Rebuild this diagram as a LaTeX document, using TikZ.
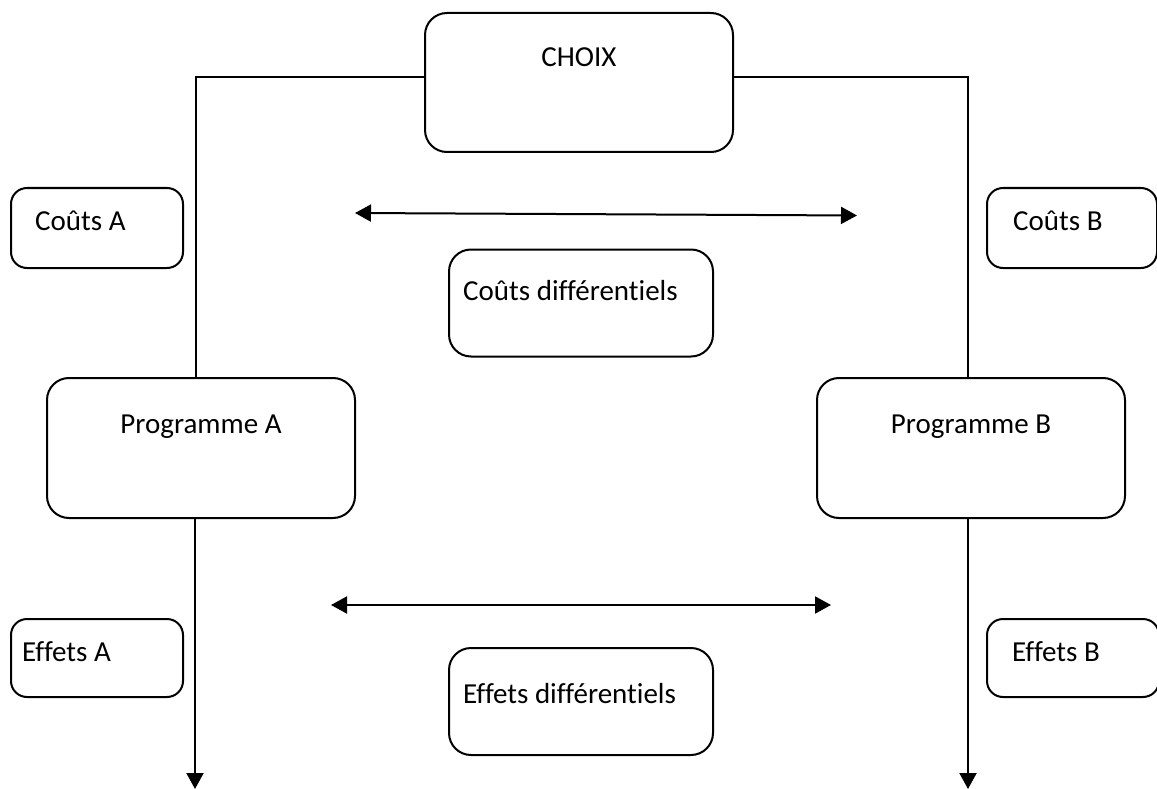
\documentclass[tikz,border=0pt]{standalone}
\usepackage{fontspec}
\setmainfont{Carlito}[Ligatures=NoCommon]
\usetikzlibrary{arrows.meta}
\begin{document}
\begin{tikzpicture}[x=1pt,y=-1pt,
  every node/.style={font=\fontsize{29}{35}\selectfont},
  box/.style={draw, line width=2pt, rounded corners=22pt, inner sep=0pt},
  smallbox/.style={draw, line width=2pt, rounded corners=16pt, inner sep=0pt},
  label/.style={inner sep=0pt, anchor=base west},
  ctext/.style={inner sep=0pt, anchor=base},
  conn/.style={line width=2pt},
  tip/.style={-{Triangle[width=17pt,length=16pt]}},
  dtip/.style={{Triangle[width=17pt,length=16pt]}-{Triangle[width=17pt,length=16pt]}}
]
\useasboundingbox (0,0) rectangle (1157,789);

% main boxes
\node[box, minimum width=308pt, minimum height=139pt] (choix) at (579,82.5) {};
\node[box, minimum width=308pt, minimum height=140pt] (progA) at (201,448) {};
\node[box, minimum width=308pt, minimum height=140pt] (progB) at (971,448) {};
\node[box, minimum width=264pt, minimum height=107pt] (cdiff) at (581,303) {};
\node[box, minimum width=264pt, minimum height=107pt] (ediff) at (581,701.5) {};

% side boxes
\node[smallbox, minimum width=172pt, minimum height=80pt] (coutA) at (97,228) {};
\node[smallbox, minimum width=170pt, minimum height=80pt] (coutB) at (1072,228) {};
\node[smallbox, minimum width=172pt, minimum height=78pt] (effA) at (97,658) {};
\node[smallbox, minimum width=172pt, minimum height=78pt] (effB) at (1073,658) {};

% texts
\node[ctext] (tchoix) at (579,67) {CHOIX};
\node[ctext] (tprogA) at (201,433) {Programme A};
\node[ctext] (tprogB) at (971,433) {Programme B};
\node[label] (tcdiff) at (463,300) {Coûts différentiels};
\node[label] (tediff) at (463,703) {Effets différentiels};
\node[label] (tcoutA) at (35,230) {Coûts A};
\node[label] (tcoutB) at (1013,230) {Coûts B};
\node[label] (teffA) at (22,661) {Effets A};
\node[label] (teffB) at (1012,661) {Effets B};

% free ends of the connectors
\coordinate (endA) at (195,789);
\coordinate (endB) at (968,789);
\coordinate (c1l) at (355,213);
\coordinate (c1r) at (857,215.5);
\coordinate (c2l) at (331,605);
\coordinate (c2r) at (831,605);

% branches from the choice to the programmes
\draw[conn] ([yshift=5.5pt]choix.west) -| ([xshift=-5pt]progA.north);
\draw[conn] ([yshift=5.5pt]choix.east) -| ([xshift=-3pt]progB.north);

% programmes down to the effects
\draw[conn, tip] ([xshift=-6pt]progA.south) -- (endA);
\draw[conn, tip] ([xshift=-3pt]progB.south) -- (endB);

% differential comparisons
\draw[conn, dtip] (c1l) -- (c1r);
\draw[conn, dtip] (c2l) -- (c2r);
\end{tikzpicture}
\end{document}
